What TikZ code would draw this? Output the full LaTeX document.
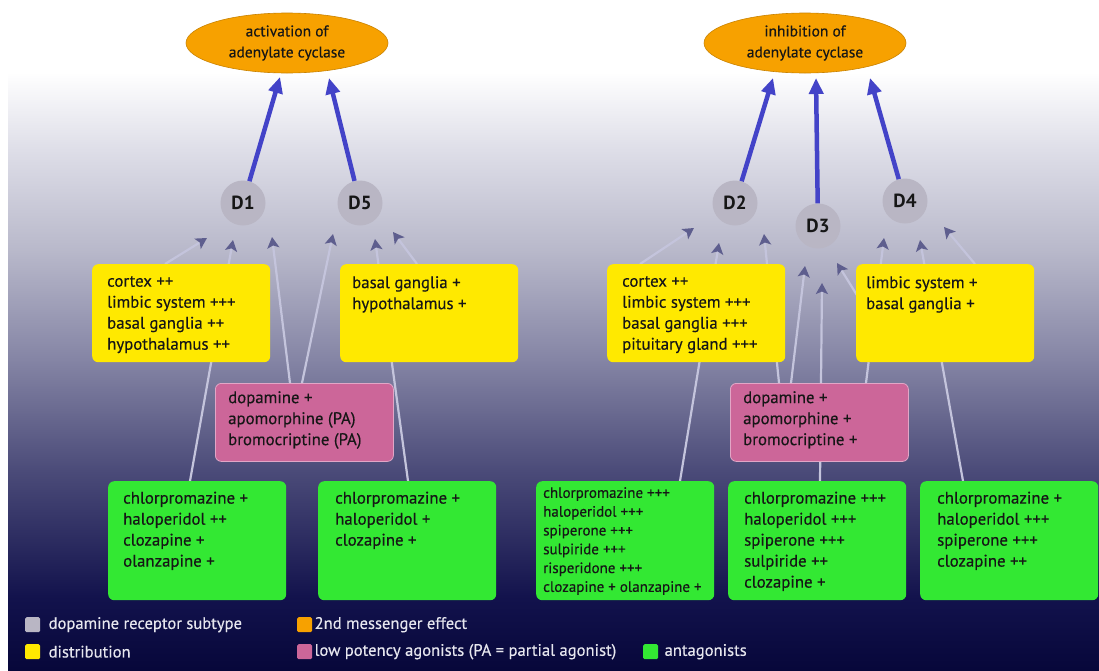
\documentclass[tikz,border=0pt]{standalone}
\usepackage{fontspec}
\setmainfont{PT Sans}
\newfontfamily\boxfont{PT Sans}[FakeBold=0.35]
\usetikzlibrary{arrows.meta,shapes.geometric,backgrounds}
\definecolor{ora}{HTML}{F7A100}
\definecolor{orad}{HTML}{C98200}
\definecolor{ylw}{HTML}{FFE900}
\definecolor{pnk}{HTML}{CC6699}
\definecolor{pnkd}{HTML}{E2A6C6}
\definecolor{grn}{HTML}{33E833}
\definecolor{dgray}{HTML}{B9B6C4}
\definecolor{blu}{HTML}{4343C8}
\definecolor{lnc}{HTML}{C4C4DC}
\definecolor{tipc}{HTML}{5E5E8E}
\definecolor{txtc}{HTML}{161616}
\definecolor{legc}{HTML}{E6E6EE}
\definecolor{bgA}{HTML}{07073A}
\definecolor{bgB}{HTML}{12124C}
\definecolor{bgC}{HTML}{4A4A78}
\definecolor{bgD}{HTML}{8585A5}
\definecolor{bgE}{HTML}{B8B8CA}
\definecolor{bgF}{HTML}{DEDEE8}
\definecolor{bgG}{HTML}{FFFFFF}
\pgfdeclareverticalshading{bgsh}{100bp}{color(0bp)=(bgA); color(25bp)=(bgA); color(31bp)=(bgB); color(41.5bp)=(bgC); color(51bp)=(bgD); color(60bp)=(bgE); color(68.5bp)=(bgF); color(75bp)=(bgG); color(100bp)=(bgG)}
\tikzset{
  ell/.style={ellipse, fill=ora, draw=orad, line width=0.6pt, minimum width=202pt, minimum height=60pt, inner sep=0pt, align=center, text=txtc, font=\boxfont\fontsize{15.5}{21}\selectfont},
  drec/.style={circle, fill=dgray, minimum size=45pt, inner sep=0pt, text=txtc, font=\fontsize{19}{19}\selectfont\bfseries},
  box/.style={rounded corners=6pt, minimum width=178pt, anchor=north west, inner sep=0pt},
  ybox/.style={box, fill=ylw, minimum height=98pt},
  pbox/.style={box, fill=pnk, draw=pnkd, line width=0.8pt, minimum height=78pt},
  gbox/.style={box, fill=grn, minimum height=119pt},
  txt/.style={anchor=north west, inner sep=0pt, align=left, text=txtc, font=\boxfont\fontsize{16.8}{21}\selectfont},
  stxt/.style={txt, font=\boxfont\fontsize{15}{18.8}\selectfont},
  bluarrow/.style={draw=blu, line width=4.5pt, -{Triangle[length=16pt,width=14pt]}},
  conn/.style={draw=lnc, line width=2.2pt, -{Stealth[length=11pt,width=12pt,inset=2.5pt,color=tipc]}},
  legsq/.style={anchor=north west, minimum size=15pt, inner sep=0pt, rounded corners=1.5pt},
  legtxt/.style={anchor=west, inner sep=0pt, text=legc, font=\boxfont\fontsize{16.6}{18}\selectfont},
}
\begin{document}
\begin{tikzpicture}[x=1pt,y=-1pt]
\useasboundingbox (0,0) rectangle (1099,670);
\begin{scope}[on background layer]
\fill[white] (0,0) rectangle (1099,670);
\shade[shading=bgsh] (8,72) rectangle (1099,670);
\end{scope}
% second messenger effects
\node[ell] (E1) at (287,43) {activation of\\adenylate cyclase};
\node[ell] (E2) at (805,43) {inhibition of\\adenylate cyclase};
% receptors
\node[drec] (D1) at (243,203) {D1};
\node[drec] (D5) at (360,203) {D5};
\node[drec] (D2) at (735,203) {D2};
\node[drec] (D3) at (818,226) {D3};
\node[drec] (D4) at (905,201) {D4};
% arrow tips at the ellipses
\coordinate (t1) at (280,77);
\coordinate (t5) at (329,78);
\coordinate (t2) at (773,78);
\coordinate (t3) at (816,78);
\coordinate (t4) at (870,78);
\draw[bluarrow] (D1) -- (t1);
\draw[bluarrow] (D5) -- (t5);
\draw[bluarrow] (D2) -- (t2);
\draw[bluarrow] (D3) -- (t3);
\draw[bluarrow] (D4) -- (t4);
% distribution
\node[ybox] (Y1) at (92,264) {};
\node[ybox] (Y5) at (340,264) {};
\node[ybox] (Y2) at (607,264) {};
\node[ybox] (Y4) at (856,264) {};
\node[txt] (Y1t) at ([shift={(15,12)}]Y1.north west) {cortex ++\\limbic system +++\\basal ganglia ++\\hypothalamus ++};
\node[txt] (Y5t) at ([shift={(12,12)}]Y5.north west) {basal ganglia +\\hypothalamus +};
\node[txt] (Y2t) at ([shift={(15,12)}]Y2.north west) {cortex ++\\limbic system +++\\basal ganglia +++\\pituitary gland +++};
\node[txt] (Y4t) at ([shift={(10,12)}]Y4.north west) {limbic system +\\basal ganglia +};
% agonists
\node[pbox] (P1) at (215,383) {};
\node[pbox] (P2) at (730,383) {};
\node[txt] (P1t) at ([shift={(13,8)}]P1.north west) {dopamine +\\apomorphine (PA)\\bromocriptine (PA)};
\node[txt] (P2t) at ([shift={(13,8)}]P2.north west) {dopamine +\\apomorphine +\\bromocriptine +};
% antagonists
\node[gbox] (G1) at (108,481) {};
\node[gbox] (G5) at (318,481) {};
\node[gbox] (G2) at (536,481) {};
\node[gbox] (G3) at (728,481) {};
\node[gbox] (G4) at (920,481) {};
\node[txt] (G1t) at ([shift={(15,10.5)}]G1.north west) {chlorpromazine +\\haloperidol ++\\clozapine +\\olanzapine +};
\node[txt] (G5t) at ([shift={(17,10.5)}]G5.north west) {chlorpromazine +\\haloperidol +\\clozapine +};
\node[stxt] (G2t) at ([shift={(7,6)}]G2.north west) {chlorpromazine +++\\haloperidol +++\\spiperone +++\\sulpiride +++\\risperidone +++\\clozapine + olanzapine +};
\node[txt] (G3t) at ([shift={(16,10.5)}]G3.north west) {chlorpromazine +++\\haloperidol +++\\spiperone +++\\sulpiride ++\\clozapine +};
\node[txt] (G4t) at ([shift={(17,10.5)}]G4.north west) {chlorpromazine +\\haloperidol +++\\spiperone +++\\clozapine ++};
% tips of the thin connectors near the receptors
\coordinate (a1) at (207,238); \coordinate (b1) at (233,240); \coordinate (c1) at (272,237);
\coordinate (a5) at (333,234); \coordinate (b5) at (375,239); \coordinate (c5) at (393,232);
\coordinate (a2) at (694,228); \coordinate (b2) at (719,243); \coordinate (c2) at (764,234);
\coordinate (a3) at (805,266); \coordinate (b3) at (822,283); \coordinate (c3) at (837,263);
\coordinate (a4) at (884,238); \coordinate (b4) at (920,240); \coordinate (c4) at (944,227);
\begin{scope}[on background layer]
\draw[conn] ([xshift=73pt]Y1.north west) -- (a1);
\draw[conn] ([xshift=82pt]G1.north west) -- (b1);
\draw[conn] ([xshift=75pt]P1.north west) -- (c1);
\draw[conn] ([xshift=87pt]P1.north west) -- (a5);
\draw[conn] ([xshift=90pt]G5.north west) -- (b5);
\draw[conn] ([xshift=77pt]Y5.north west) -- (c5);
\draw[conn] ([xshift=33pt]Y2.north west) -- (a2);
\draw[conn] ([xshift=144pt]G2.north west) -- (b2);
\draw[conn] ([xshift=49pt]P2.north west) -- (c2);
\draw[conn] ([xshift=61pt]P2.north west) -- (a3);
\draw[conn] ([xshift=92pt]G3.north west) -- (b3);
\draw[conn] ([shift={(4,36)}]Y4.north west) -- (c3);
\draw[conn] ([xshift=136pt]P2.north west) -- (a4);
\draw[conn] ([xshift=43pt]G4.north west) -- (b4);
\draw[conn] ([xshift=119pt]Y4.north west) -- (c4);
\end{scope}
% legend
\node[legsq, fill=dgray] (L1) at (25,617) {};
\node[legtxt] (L1t) at ([xshift=8pt]L1.east) {dopamine receptor subtype};
\node[legsq, fill=ora] (L2) at (297,617) {};
\node[legtxt] (L2t) at ([xshift=2pt]L2.east) {2nd messenger effect};
\node[legsq, fill=ylw] (L3) at (25,644) {};
\node[legtxt] (L3t) at ([xshift=8pt]L3.east) {distribution};
\node[legsq, fill=pnk] (L4) at (297,644) {};
\node[legtxt] (L4t) at ([xshift=2pt]L4.east) {low potency agonists (PA = partial agonist)};
\node[legsq, fill=grn] (L5) at (643,644) {};
\node[legtxt] (L5t) at ([xshift=6pt]L5.east) {antagonists};
\end{tikzpicture}
\end{document}
